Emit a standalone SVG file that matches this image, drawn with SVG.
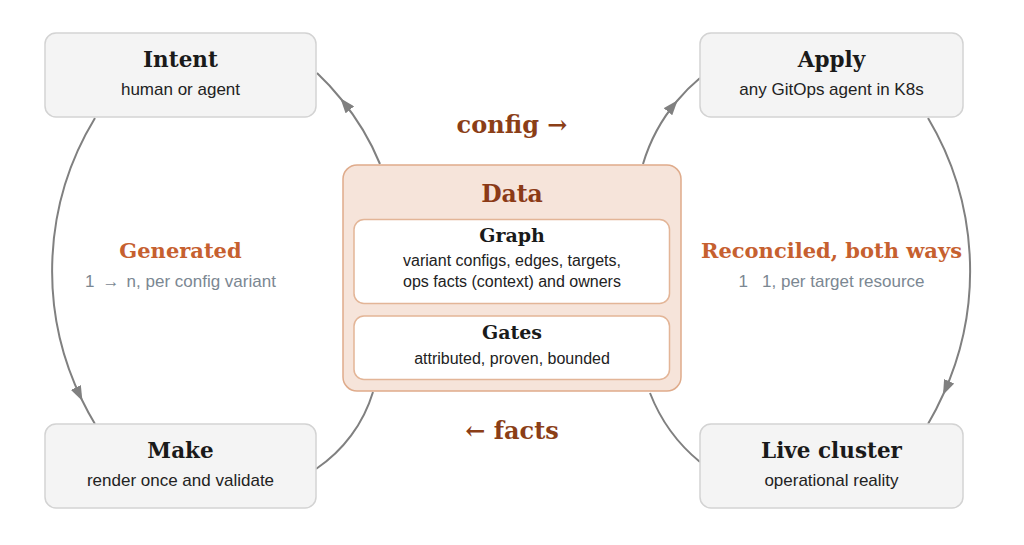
<svg xmlns="http://www.w3.org/2000/svg" width="1024" height="545" viewBox="0 0 1024 545">
<style>
.box{fill:#f4f4f4;stroke:#d3d3d3;stroke-width:1.5}
.data{fill:#f6e4da;stroke:#dfab8b;stroke-width:1.5}
.inner{fill:#ffffff;stroke:#e3b597;stroke-width:1.5}
.t{font-family:"DejaVu Serif",serif;font-weight:bold;fill:#1a1a1a;text-anchor:middle}
.s{font-family:"Liberation Sans",Arial,sans-serif;font-size:17px;fill:#222222;text-anchor:middle}
.si{font-family:"Liberation Sans",Arial,sans-serif;font-size:16px;fill:#222222;text-anchor:middle}
.g{font-family:"Liberation Sans",Arial,sans-serif;font-size:17px;fill:#7b8792;text-anchor:middle}
.lab{font-family:"DejaVu Serif",serif;font-weight:bold;font-size:21px;fill:#c6602f;text-anchor:middle}
.flow{font-family:"DejaVu Serif",serif;font-weight:bold;font-size:24px;fill:#8b3e17;text-anchor:middle}
.c{fill:none;stroke:#808080;stroke-width:2}
</style>
<defs>
<marker id="ah" viewBox="0 0 15 11" markerWidth="15" markerHeight="11" refX="14" refY="5.5" orient="auto" markerUnits="userSpaceOnUse">
<path d="M0,0 L15,5.5 L0,11 z" fill="#808080"/>
</marker>
</defs>
<g id="connectors">
<path class="c" d="M95,118 A294,294 0 0 0 82,400 A294,294 0 0 0 95,424" marker-mid="url(#ah)"/>
<path class="c" d="M928,118 A298,298 0 0 1 943.4,394 A298,298 0 0 1 928,424" marker-mid="url(#ah)"/>
<path class="c" d="M380,164 A252,252 0 0 0 341,99 A252,252 0 0 0 317,73" marker-mid="url(#ah)"/>
<path class="c" d="M643,164 A174,174 0 0 1 677,101 A174,174 0 0 1 700,78" marker-mid="url(#ah)"/>
<path class="c" d="M373,392 A142,142 0 0 1 316,469"/>
<path class="c" d="M650,393 A167,167 0 0 0 700,462"/>
</g>
<g id="intent">
<rect class="box" x="45" y="33" width="271" height="84" rx="11"/>
<text class="t" x="180.5" y="66.5" font-size="21.5">Intent</text>
<text class="s" x="180.5" y="94.5">human or agent</text>
</g>
<g id="apply">
<rect class="box" x="700" y="33" width="263" height="84" rx="11"/>
<text class="t" x="831.5" y="66.5" font-size="21.5">Apply</text>
<text class="s" x="831.5" y="94.5">any GitOps agent in K8s</text>
</g>
<g id="make">
<rect class="box" x="45" y="424" width="271" height="84" rx="11"/>
<text class="t" x="180.5" y="457.5" font-size="21.5">Make</text>
<text class="s" x="180.5" y="486">render once and validate</text>
</g>
<g id="live-cluster">
<rect class="box" x="700" y="424" width="263" height="84" rx="11"/>
<text class="t" x="831.5" y="457.5" font-size="21.5">Live cluster</text>
<text class="s" x="831.5" y="486">operational reality</text>
</g>
<g id="data">
<rect class="data" x="343" y="165" width="338" height="226" rx="14"/>
<text class="t" x="512" y="201.5" font-size="23.5" style="fill:#8b3a17">Data</text>
</g>
<g id="graph">
<rect class="inner" x="354" y="219.5" width="315.5" height="84" rx="10"/>
<text class="t" x="512" y="241.5" font-size="19">Graph</text>
<text class="si" x="512" y="266">variant configs, edges, targets,</text>
<text class="si" x="512" y="287">ops facts (context) and owners</text>
</g>
<g id="gates">
<rect class="inner" x="354" y="316" width="315.5" height="63.5" rx="10"/>
<text class="t" x="512" y="338.5" font-size="19">Gates</text>
<text class="si" x="512" y="363.5">attributed, proven, bounded</text>
</g>
<g id="labels">
<text class="flow" x="512" y="133">config →</text>
<text class="flow" x="512" y="439">← facts</text>
<text class="lab" x="180.5" y="258">Generated</text>
<text class="g" x="180.5" y="287">1<tspan dx="8">→</tspan><tspan dx="7">n, per config variant</tspan></text>
<text class="lab" x="831.5" y="258">Reconciled, both ways</text>
<text class="g" x="831.5" y="287" xml:space="preserve">1   1, per target resource</text>
</g>
</svg>
